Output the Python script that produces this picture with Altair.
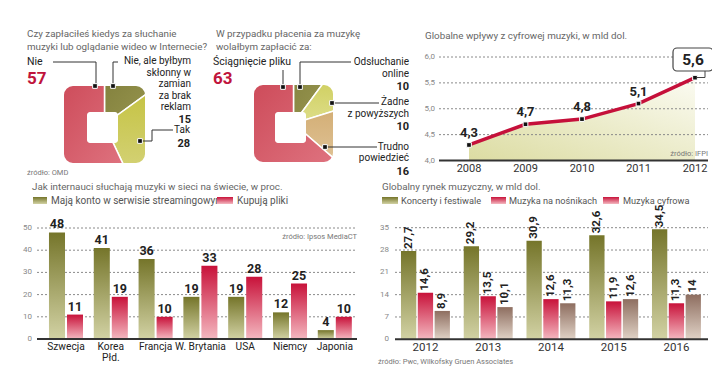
import math
import altair as alt
import pandas as pd

# ---------------- data ----------------
q1_title = ["Czy zapłaciłeś kiedys za słuchanie", "muzyki lub oglądanie wideo w Internecie?"]
q1_values = [15, 28, 57]   # clockwise from top: "Nie, ale...", "Tak", "Nie"
q1_big_label = "Nie"
q1_lab_a = ["Nie, ale byłbym", "skłonny w", "zamian", "za brak", "reklam"]
q1_lab_b = "Tak"
q1_source = "źródło: OMD"

q2_title = ["W przypadku płacenia za muzykę", "wolałbym zapłacić za:"]
q2_values = [10, 10, 16, 63]  # clockwise from top
q2_big_label = "Ściągnięcie pliku"
q2_lab_a = ["Odsłuchanie", "online"]
q2_lab_b = ["Żadne", "z powyższych"]
q2_lab_c = ["Trudno", "powiedzieć"]

line_title = "Globalne wpływy z cyfrowej muzyki, w mld dol."
years = ["2008", "2009", "2010", "2011", "2012"]
digital = [4.3, 4.7, 4.8, 5.1, 5.6]
line_ticks = [4.0, 4.5, 5.0, 5.5, 6.0]
line_source = "źródło: IFPI"

bars1_title = "Jak internauci słuchają muzyki w sieci na świecie, w proc."
bars1_series = ["Mają konto w serwisie streamingowym", "Kupują pliki"]
countries = ["Szwecja", "Korea\nPłd.", "Francja", "W. Brytania", "USA", "Niemcy", "Japonia"]
streaming = [48, 41, 36, 19, 19, 12, 4]
buying = [11, 19, 10, 33, 28, 25, 10]
pct_ticks = [0, 10, 20, 30, 40, 50]
bars1_source = "źródło: Ipsos MediaCT"

bars2_title = "Globalny rynek muzyczny, w mld dol."
bars2_series = ["Koncerty i festiwale", "Muzyka na nośnikach", "Muzyka cyfrowa"]
market_years = ["2012", "2013", "2014", "2015", "2016"]
concerts = [27.7, 29.2, 30.9, 32.6, 34.5]
physical = [14.6, 13.5, 12.6, 11.9, 11.3]
digital_m = [8.9, 10.1, 11.3, 12.6, 14]
market_ticks = [0, 7, 14, 21, 28, 35]
bars2_source = "źródło: Pwc, Wilkofsky Gruen Associates"

# ---------------- styling helpers ----------------
FONT = "Roboto, 'Liberation Sans', sans-serif"
RED = "#c0143c"
ONE = pd.DataFrame({"d": [0]})

T_TITLE = 9.8
T_LAB = 10
T_VAL = 11
T_BIG = 17
T_LEG = 10
T_LEG2 = 9.2
T_SRC = 7.5
T_TICK = 8


def P(v):
    return v - 8


def grad(c0, c1, x1=0, y1=0, x2=0, y2=1):
    return alt.Gradient(
        gradient="linear",
        stops=[alt.GradientStop(color=c0, offset=0), alt.GradientStop(color=c1, offset=1)],
        x1=x1, y1=y1, x2=x2, y2=y2,
    )


def text(s, x, y, size=12, color="#222", weight="normal", align="left", baseline="middle"):
    return alt.Chart(pd.DataFrame({"t": [s]})).mark_text(
        font=FONT, fontSize=size, color=color, fontWeight=weight, align=align, baseline=baseline
    ).encode(x=alt.value(P(x)), y=alt.value(P(y)), text="t:N")


def seg(x1, y1, x2, y2, color="#333", w=1.0):
    return alt.Chart(ONE).mark_rule(color=color, strokeWidth=w).encode(
        x=alt.value(P(x1)), y=alt.value(P(y1)), x2=alt.value(P(x2)), y2=alt.value(P(y2))
    )


def marker(x, y):
    return alt.Chart(ONE).mark_square(size=22, color="#111", opacity=1, stroke="white", strokeWidth=1).encode(
        x=alt.value(P(x)), y=alt.value(P(y))
    )


def box(x1, y1, x2, y2, **kw):
    return alt.Chart(ONE).mark_rect(**kw).encode(
        x=alt.value(P(x1)), x2=alt.value(P(x2)), y=alt.value(P(y1)), y2=alt.value(P(y2))
    )


def pie(values, fills, cx, cy, sq, hole, R=64, r=9):
    total = sum(values)
    df = pd.DataFrame({"i": list(range(len(values))), "v": values})
    th = alt.Scale(domain=[0, total], range=[0, 2 * math.pi])
    base = alt.Chart(df).transform_window(cum="sum(v)", sort=[alt.SortField("i")]).transform_calculate(
        start="datum.cum - datum.v"
    )
    arcs = []
    for k, f in enumerate(fills):
        arcs.append(
            base.transform_filter(alt.datum.i == k)
            .mark_arc(radius=R, fill=f, stroke="white", strokeWidth=1.5)
            .encode(
                theta=alt.Theta("start:Q", scale=th, stack=False),
                theta2="cum:Q",
                x=alt.value(P(cx)),
                y=alt.value(P(cy)),
            )
        )
    x1, y1, x2, y2 = sq
    m = 16
    mask = box(x1 - m, y1 - m, x2 + m, y2 + m, fillOpacity=0, stroke="white", strokeWidth=2 * m, cornerRadius=r + m)
    hx1, hy1, hx2, hy2 = hole
    h = box(hx1, hy1, hx2, hy2, fill="white", cornerRadius=3)
    return alt.layer(*arcs, mask, h)


layers = []

# ---------------- donut 1 ----------------
layers.append(
    pie(
        q1_values,
        [
            grad("#7f7d3a", "#999750", 0, 0, 1, 1),
            grad("#c4c240", "#d6d47e", 0, 0, 0, 1),
            grad("#c8404f", "#e27a86", 0, 0, 1, 1),
        ],
        104.5, 124.5, (64, 86, 145, 163), (87, 112, 118, 143),
    )
)
# ---------------- donut 2 ----------------
layers.append(
    pie(
        q2_values,
        [
            grad("#84823e", "#9a9852", 0, 0, 1, 1),
            grad("#cccc58", "#dede8a", 0, 0, 0, 1),
            grad("#d2ac72", "#e0c498", 0, 0, 0, 1),
            grad("#c8404f", "#e27a86", 0, 0, 1, 1),
        ],
        293.5, 123.5, (254, 85, 333, 162), (275, 112, 306, 143),
    )
)

# donut 1 texts
layers += [
    text(q1_title[0], 27, 34, T_TITLE, "#666"),
    text(q1_title[1], 27, 47, T_TITLE, "#666"),
    text(q1_big_label, 27, 62, T_LAB + 0.5, "#222"),
    text(str(q1_values[2]), 27, 78.5, T_BIG, RED, "bold"),
]
for i, s in enumerate(q1_lab_a):
    layers.append(text(s, 191, 61 + i * 11.6, T_LAB, "#222", align="right"))
layers.append(text(str(q1_values[0]), 191, 119.5, T_VAL, "#222", "bold", align="right"))
layers.append(text(q1_lab_b, 190, 130, T_LAB, "#222", align="right"))
layers.append(text(str(q1_values[1]), 190, 143.5, T_VAL, "#222", "bold", align="right"))
layers.append(text(q1_source, 27, 173, T_SRC, "#777"))
layers += [
    seg(53, 62, 96, 62), seg(96, 62, 96, 86), marker(95, 86),
    seg(118, 62, 113, 62), seg(113, 62, 113, 86), marker(113, 86),
    seg(173, 130, 152, 130), seg(152, 130, 152, 141), seg(152, 141, 140, 141), marker(140, 141),
]

# donut 2 texts
layers += [
    text(q2_title[0], 216, 34, T_TITLE, "#666"),
    text(q2_title[1], 216, 47, T_TITLE, "#666"),
    text(q2_big_label, 213, 62, T_LAB + 0.5, "#222"),
    text(str(q2_values[3]), 213, 78.5, T_BIG, RED, "bold"),
]
for i, s in enumerate(q2_lab_a):
    layers.append(text(s, 409, 62 + i * 11.8, T_LAB, "#222", align="right"))
layers.append(text(str(q2_values[0]), 409, 87, T_VAL, "#222", "bold", align="right"))
for i, s in enumerate(q2_lab_b):
    layers.append(text(s, 409, 102 + i * 11.8, T_LAB, "#222", align="right"))
layers.append(text(str(q2_values[1]), 409, 127, T_VAL, "#222", "bold", align="right"))
for i, s in enumerate(q2_lab_c):
    layers.append(text(s, 409, 146.5 + i * 11.8, T_LAB, "#222", align="right"))
layers.append(text(str(q2_values[2]), 409, 171.5, T_VAL, "#222", "bold", align="right"))
layers += [
    seg(283, 70, 283, 87), marker(283, 87),
    seg(300, 87, 300, 62), seg(300, 62, 351, 62), marker(300, 87),
    seg(332, 103, 379, 103), marker(332, 103),
    seg(325, 147, 377, 147), marker(325, 147),
]

# ---------------- line chart ----------------
LX = alt.Scale(type="point", domain=years, range=[P(469), P(695)], padding=0)
LY = alt.Scale(domain=[4, 6], range=[P(160.5), P(57)])
ldf = pd.DataFrame({"year": years, "v": digital})
ltk = pd.DataFrame({"g": line_ticks})
lx = alt.X("year:O", scale=LX, axis=None)
ly = alt.Y("v:Q", scale=LY, axis=None)
gy = alt.Y("g:Q", scale=LY, axis=None)

line_chart = alt.layer(
    alt.Chart(ldf).mark_area(fill=grad("#fbfbf2", "#dcdca2", 1, 0, 0, 1)).encode(x=lx, y=ly, y2=alt.Y2Datum(4)),
    alt.Chart(ltk).transform_filter("datum.g > 4").mark_rule(color="#8a8a8a", strokeDash=[2, 2], strokeWidth=1).encode(
        y=gy, x=alt.value(P(439)), x2=alt.value(P(708))
    ),
    alt.Chart(ltk).transform_filter("datum.g == 4").mark_rule(color="#333", strokeWidth=2).encode(
        y=gy, x=alt.value(P(439)), x2=alt.value(P(708))
    ),
    alt.Chart(ltk).transform_calculate(lab="replace(format(datum.g, '.1f'), '.', ',')").mark_text(
        font=FONT, fontSize=T_TICK, color="#888", align="right", baseline="middle"
    ).encode(y=gy, x=alt.value(P(435)), text="lab:N"),
    alt.Chart(ldf).mark_text(font=FONT, fontSize=11, color="#333", baseline="middle").encode(
        x=lx, y=alt.value(P(169)), text="year:N"
    ),
    alt.Chart(ldf).mark_line(color="#c5103a", strokeWidth=3.5).encode(x=lx, y=ly),
    alt.Chart(ldf).mark_square(size=22, color="#111", opacity=1, stroke="white", strokeWidth=1).encode(x=lx, y=ly),
    alt.Chart(ldf).transform_filter("datum.year != '2012'").transform_calculate(
        lab="replace(format(datum.v, '.1f'), '.', ',')"
    ).mark_text(font=FONT, fontSize=13, fontWeight="bold", color="#222", baseline="bottom", dy=-5).encode(
        x=lx, y=ly, text="lab:N"
    ),
)
layers.append(line_chart)
layers += [
    seg(697, 77.5, 705, 77.5, "#444"), seg(705, 77.5, 705, 71, "#444"),
    box(673, 48, 713, 71, fill="white", stroke="#444", strokeWidth=1.2, cornerRadius=4),
]
layers.append(
    alt.Chart(ldf).transform_filter("datum.year == '2012'").transform_calculate(
        lab="replace(format(datum.v, '.1f'), '.', ',')"
    ).mark_text(font=FONT, fontSize=15.5, fontWeight="bold", color="#222", baseline="middle", dx=-2, dy=-18).encode(
        x=lx, y=ly, text="lab:N"
    )
)
layers.append(text(line_title, 425, 36, T_TITLE, "#666"))
layers.append(text(line_source, 708, 154, T_SRC, "#777", align="right"))

# ---------------- bar chart 1 ----------------
OLIVE = grad("#75752a", "#d2d2a4")
REDG = grad("#c8123a", "#f4b8c0")
TAN = grad("#8e6e60", "#e0d2c6")

b1 = pd.DataFrame({
    "cat": countries * 2,
    "s": ["a"] * len(countries) + ["b"] * len(countries),
    "v": streaming + buying,
})
B1X = alt.Scale(domain=countries, range=[P(43.6), P(357.2)], paddingInner=0.24, paddingOuter=0.12)
B1Y = alt.Scale(domain=[0, 50], range=[P(339), P(228)])
B1O = alt.Scale(domain=["a", "b"], paddingInner=0.11, paddingOuter=0)
bx = alt.X("cat:N", scale=B1X, axis=None)
by = alt.Y("v:Q", scale=B1Y, axis=None)
bo = alt.XOffset("s:N", scale=B1O)
t1 = pd.DataFrame({"g": pct_ticks})
t1y = alt.Y("g:Q", scale=B1Y, axis=None)

bar1 = alt.layer(
    alt.Chart(t1).transform_filter("datum.g > 0").mark_rule(color="#8a8a8a", strokeDash=[2, 2]).encode(
        y=t1y, x=alt.value(P(37)), x2=alt.value(P(357))
    ),
    alt.Chart(t1).mark_text(font=FONT, fontSize=T_TICK, color="#888", align="right", baseline="middle").encode(
        y=t1y, x=alt.value(P(32)), text="g:Q"
    ),
    alt.Chart(b1).transform_filter("datum.s == 'a'").mark_bar(fill=OLIVE).encode(x=bx, y=by, xOffset=bo),
    alt.Chart(b1).transform_filter("datum.s == 'b'").mark_bar(fill=REDG).encode(x=bx, y=by, xOffset=bo),
    alt.Chart(t1).transform_filter("datum.g == 0").mark_rule(color="#333", strokeWidth=2).encode(
        y=t1y, x=alt.value(P(37)), x2=alt.value(P(357))
    ),
    alt.Chart(b1).mark_text(font=FONT, fontSize=12.5, fontWeight="bold", color="#222", baseline="bottom", dy=-1).encode(
        x=bx, y=by, xOffset=bo, text="v:Q"
    ),
    alt.Chart(b1).transform_filter("datum.s == 'a'").mark_text(
        font=FONT, fontSize=10.2, color="#222", baseline="top", lineBreak="\n", lineHeight=11.5
    ).encode(x=bx, y=alt.value(P(341.5)), text="cat:N"),
)
layers.append(bar1)
layers += [
    text(bars1_title, 32, 186.5, T_TITLE, "#666"),
    box(33, 197, 47, 204, fill=OLIVE),
    text(bars1_series[0], 51, 200.5, T_LEG, "#555"),
    box(217, 197, 233, 204, fill=REDG),
    text(bars1_series[1], 237, 200.5, T_LEG, "#555"),
    text(bars1_source, 357, 237, T_SRC, "#777", align="right"),
]

# ---------------- bar chart 2 ----------------
b2 = pd.DataFrame({
    "cat": market_years * 3,
    "s": ["a"] * 5 + ["b"] * 5 + ["c"] * 5,
    "v": concerts + physical + digital_m,
})
B2X = alt.Scale(domain=market_years, range=[P(394.7), P(707.2)], paddingInner=0.22, paddingOuter=0.1)
B2Y = alt.Scale(domain=[0, 35], range=[P(339.3), P(227.7)])
B2O = alt.Scale(domain=["a", "b", "c"], paddingInner=0.09, paddingOuter=0)
cx2 = alt.X("cat:N", scale=B2X, axis=None)
cy2 = alt.Y("v:Q", scale=B2Y, axis=None)
co2 = alt.XOffset("s:N", scale=B2O)
t2 = pd.DataFrame({"g": market_ticks})
t2y = alt.Y("g:Q", scale=B2Y, axis=None)

bar2 = alt.layer(
    alt.Chart(t2).transform_filter("datum.g > 0").mark_rule(color="#8a8a8a", strokeDash=[2, 2]).encode(
        y=t2y, x=alt.value(P(395)), x2=alt.value(P(708))
    ),
    alt.Chart(t2).mark_text(font=FONT, fontSize=T_TICK, color="#888", align="right", baseline="middle").encode(
        y=t2y, x=alt.value(P(389)), text="g:Q"
    ),
    alt.Chart(b2).transform_filter("datum.s == 'a'").mark_bar(fill=OLIVE).encode(x=cx2, y=cy2, xOffset=co2),
    alt.Chart(b2).transform_filter("datum.s == 'b'").mark_bar(fill=REDG).encode(x=cx2, y=cy2, xOffset=co2),
    alt.Chart(b2).transform_filter("datum.s == 'c'").mark_bar(fill=TAN).encode(x=cx2, y=cy2, xOffset=co2),
    alt.Chart(t2).transform_filter("datum.g == 0").mark_rule(color="#333", strokeWidth=2).encode(
        y=t2y, x=alt.value(P(395)), x2=alt.value(P(708))
    ),
    alt.Chart(b2).transform_calculate(lab="replace(toString(datum.v), '.', ',')").mark_text(
        font=FONT, fontSize=11.5, fontWeight="bold", color="#222", angle=270, align="left", baseline="middle", dx=2
    ).encode(x=cx2, y=cy2, xOffset=co2, text="lab:N"),
    alt.Chart(b2).transform_filter("datum.s == 'a'").mark_text(
        font=FONT, fontSize=11.5, color="#333", baseline="middle"
    ).encode(x=cx2, y=alt.value(P(348)), text="cat:N"),
)
layers.append(bar2)
layers += [
    text(bars2_title, 382, 186.5, T_TITLE, "#666"),
    box(382, 197, 398, 204, fill=OLIVE),
    text(bars2_series[0], 401, 200.5, T_LEG2, "#555"),
    box(491, 197, 506, 204, fill=REDG),
    text(bars2_series[1], 509, 200.5, T_LEG2, "#555"),
    box(603, 197, 619, 204, fill=REDG),
    text(bars2_series[2], 623, 200.5, T_LEG2, "#555"),
    text(bars2_source, 378, 362, T_SRC, "#777"),
]

chart = (
    alt.layer(*layers)
    .resolve_scale(x="independent", y="independent", theta="independent", xOffset="independent")
    .properties(width=704, height=375, padding=0, autosize="none")
    .configure_view(stroke=None)
)
chart.save("out.html", embed_options={"renderer": "svg", "actions": False})
